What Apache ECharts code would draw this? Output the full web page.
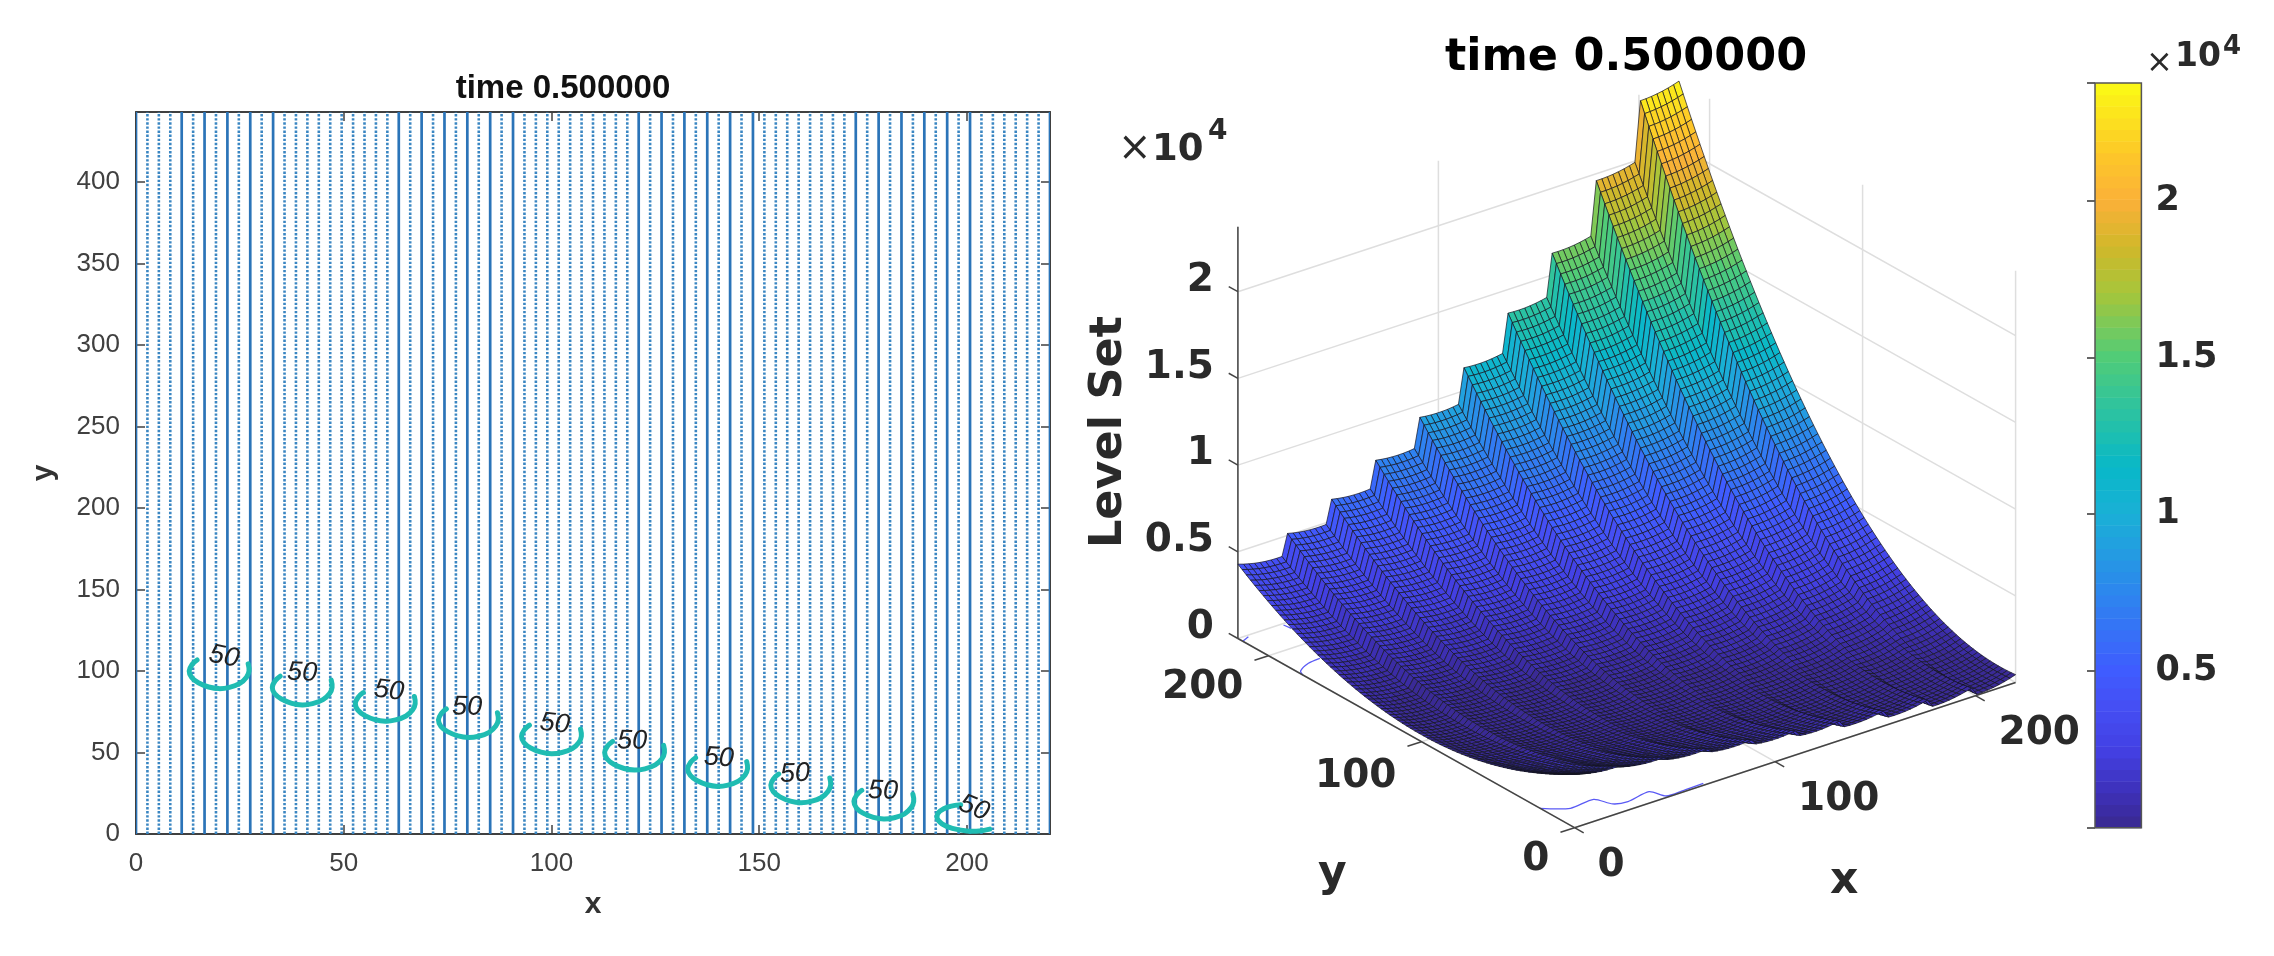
<!DOCTYPE html>
<html>
<head>
<meta charset="utf-8">
<title>time 0.500000</title>
<script src="https://cdn.jsdelivr.net/npm/echarts@6/dist/echarts.min.js"></script>
<style>
  html, body { margin: 0; padding: 0; background: #fff; }
  #chart { width: 2274px; height: 956px; }
</style>
</head>
<body>
<div id="chart"></div>
<script>
// mesh coordinates shared by both panels
const meshX = [0,2.75,5.5,8.25,11,13.75,16.5,19.25,22,24.75,27.5,30.25,33,35.75,38.5,41.25,44,46.75,49.5,52.25,55,57.75,60.5,63.25,66,68.75,71.5,74.25,77,79.75,82.5,85.25,88,90.75,93.5,96.25,99,101.75,104.5,107.25,110,112.75,115.5,118.25,121,123.75,126.5,129.25,132,134.75,137.5,140.25,143,145.75,148.5,151.25,154,156.75,159.5,162.25,165,167.75,170.5,173.25,176,178.75,181.5,184.25,187,189.75,192.5,195.25,198,200.75,203.5,206.25,209,211.75,214.5,217.25,220];
const meshY = meshX;

// left panel: columns drawn as solid lines, the others are dotted
const solidColumns = [0,4,6,8,10,12,23,25,27,29,31,33,44,46,48,50,52,54,63,65,67,69,71,73,80];
const contourCenters = [[20,100],[40,90],[60,80],[80,70],[100,60],[120,50],[140,40],[160,30],[180,20],[200,10]];
const arcOffsets = [[-5.3,6.8],[-6.5,4],[-7.2,0],[-6.6,-4],[-5,-7.2],[-2.5,-9.8],[0,-10.8],[2.5,-10],[5,-7.6],[6.6,-3.8],[7.2,0],[7,4.4]];
const lastArcOffsets = [[-1.5,8],[-4,7],[-6.5,4],[-7.2,0],[-6,-3.8],[-3.5,-6.6],[0,-8.2],[3,-8.2],[5.5,-7]];
const contourLabelPos = [[21.2,108.8],[40,98.9],[60.9,87.9],[79.7,78],[100.8,67.6],[119.4,57.1],[140.3,46.7],[158.6,36.9],[179.8,26.4],[201.7,16]];
const contourLabelTilt = [-12,-3,-7,-1,-7,-1,-4,2,-2,-22];
const contourLevel = '50';

// right panel: the surface.
// each x band (one staircase tread) has one level-per-row list; a column adds its own small rise
const bandStart = [0,9,17,25,33,41,49,57,65,73];
const columnRise = [400,298,210,138,81,39,12,1,4, 233,156,95,49,18,2,2,16, 176,110,60,25,5,0,11,36, 127,72,33,9,0,6,28,64, 86,42,14,1,3,20,53,100, 53,20,3,1,14,42,86,144, 28,6,0,9,33,72,127,196, 11,0,5,25,60,110,176,256, 2,2,18,49,95,156,233,324, 1,12,39,81,138,210,298,400];
const band1 = [2700,2554,2411,2273,2139,2009,1882,1761,1643,1529,1419,1314,1212,1115,1021,932,847,766,689,616,547,482,421,365,312,264,219,179,143,111,83,59,39,23,11,4,0,1,5,14,27,44,65,90,119,152,190,231,276,326,380,437,499,565,635,709,787,870,956,1046,1141,1239,1342,1449,1560,1674,1793,1916,2044,2175,2310,2450,2593,2741,2892,3048,3208,3372,3540,3712,3888];
const band2 = [2341,2200,2064,1931,1804,1680,1561,1447,1336,1230,1129,1032,939,851,766,687,612,541,474,412,354,301,251,207,166,131,99,72,49,30,16,7,1,0,4,11,23,40,61,86,116,150,188,231,278,329,385,445,510,579,652,730,812,898,989,1084,1184,1288,1396,1509,1626,1747,1873,2003,2137,2276,2420,2567,2719,2876,3036,3201,3371,3545,3723,3906,4092,4284,4480,4680,4884];
const band3 = [1984,1850,1721,1596,1476,1361,1250,1144,1043,946,854,767,685,607,534,465,402,343,288,239,194,153,118,87,61,39,22,10,3,0,2,9,20,36,56,82,112,147,186,230,279,332,391,454,521,593,670,752,838,929,1025,1125,1230,1340,1455,1574,1698,1826,1959,2097,2240,2387,2539,2696,2857,3023,3194,3369,3549,3734,3923,4118,4316,4520,4728,4941,5159,5381,5608,5840,6076];
const band4 = [1642,1515,1394,1277,1166,1060,959,863,772,686,605,529,459,393,332,277,226,181,141,106,75,50,30,15,5,1,1,6,16,32,52,78,109,144,185,231,282,338,399,465,536,612,694,780,871,968,1069,1176,1288,1405,1526,1653,1785,1922,2064,2212,2364,2521,2683,2851,3023,3201,3384,3571,3764,3962,4165,4373,4586,4804,5027,5255,5489,5727,5970,6219,6473,6731,6995,7264,7538];
const band5 = [1296,1180,1069,964,864,770,681,598,520,447,380,319,262,212,166,127,92,63,40,22,9,2,0,4,13,28,48,73,104,140,182,230,282,340,404,473,548,627,713,804,900,1002,1109,1222,1340,1463,1592,1726,1866,2012,2162,2318,2480,2647,2820,2998,3181,3370,3564,3764,3969,4180,4396,4617,4844,5077,5314,5558,5806,6061,6320,6585,6856,7132,7413,7700,7992,8290,8593,8902,9216];
const band6 = [975,871,772,680,593,512,438,369,306,249,197,152,113,79,52,30,14,4,0,2,10,23,43,68,100,137,180,229,284,345,412,485,563,648,738,834,936,1044,1158,1278,1404,1536,1673,1817,1966,2121,2282,2450,2622,2801,2986,3177,3373,3576,3784,3998,4218,4444,4676,4914,5158,5407,5663,5924,6192,6465,6744,7029,7320,7617,7919,8228,8543,8863,9189,9521,9860,10204,10553,10909,11271];
const band7 = [672,583,500,423,353,289,232,181,136,98,66,40,21,8,1,1,7,19,38,63,95,132,177,227,284,347,417,493,575,664,759,860,968,1082,1202,1329,1462,1601,1747,1900,2058,2223,2394,2572,2756,2946,3142,3346,3555,3771,3993,4221,4456,4697,4944,5198,5458,5725,5998,6277,6563,6854,7153,7458,7768,8086,8409,8739,9076,9419,9768,10123,10485,10853,11227,11608,11996,12389,12789,13196,13608];
const band8 = [405,334,270,213,162,119,82,52,29,12,3,0,4,15,33,57,88,126,171,223,281,347,419,498,583,676,775,881,994,1114,1240,1374,1514,1661,1814,1975,2142,2317,2498,2686,2880,3081,3290,3505,3726,3955,4190,4433,4682,4938,5200,5470,5746,6029,6319,6616,6919,7230,7547,7870,8201,8539,8883,9234,9592,9957,10328,10707,11092,11484,11883,12289,12701,13120,13546,13979,14418,14865,15318,15778,16245];
const band9 = [196,146,103,68,40,19,6,0,2,11,28,51,83,122,168,221,282,351,426,510,600,698,804,917,1037,1165,1300,1442,1592,1749,1914,2086,2266,2453,2647,2849,3058,3275,3499,3730,3969,4215,4469,4730,4998,5274,5558,5849,6147,6452,6765,7085,7413,7748,8091,8441,8798,9163,9535,9915,10302,10697,11099,11508,11925,12349,12780,13219,13666,14119,14580,15049,15525,16009,16499,16998,17503,18016,18537,19065,19600];
const band10 = [53,28,11,2,1,7,22,45,76,115,162,217,280,351,430,518,613,716,827,946,1073,1208,1352,1503,1662,1830,2004,2188,2379,2578,2786,3001,3225,3456,3695,3943,4198,4462,4733,5013,5300,5596,5899,6211,6530,6858,7193,7537,7889,8248,8616,8991,9375,9767,10166,10575,10990,11414,11846,12285,12733,13189,13653,14125,14605,15093,15588,16092,16604,17124,17652,18189,18732,19285,19844,20412,20989,21573,22165,22765,23373];
const bandProfiles = [band1,band2,band3,band4,band5,band6,band7,band8,band9,band10];

// thin contour traces lying on the floor of the 3D box
const floorContours = [
  [[0,22.5],[9.6,15.2],[21.9,16.2],[25.3,8.2],[31.4,6.2],[43.6,8.4],[46.6,1.1],[55,1],[65.3,1.4]],
  [[0,177.6],[1.5,181],[8.3,184.8],[14.7,185.7]],
  [[0,216.8],[4.3,218.8]],
  [[21.9,218.9],[22.5,214.6]]
];

const xTicks3d = [0,100,200];
const yTicks3d = [0,100,200];
const zTicks3d = [0,5000,10000,15000,20000];
const zTickLabels = ['0','0.5','1','1.5','2'];
const xyMax = 220;
const zMax = 23740;

// colour bar stops
const colorStopValues = [0,1000,2500,4000,5000,7500,10000,11500,13500,15000,17000,18500,20000,21500,23755];
const colorStopColors = ['#39298f','#3d2fb4','#4340e4','#4550f5','#3f5cff','#2d86ee','#1ab0d6','#08b8c8','#30c49c','#50cc78','#a4c63c','#d0b82a','#fbb038','#fdc828','#fbfb14'];
const colorBarMax = 23755;
const colorBarTicks = { 5000: '0.5', 10000: '1', 15000: '1.5', 20000: '2' };

const BOLD3D = 'bold 39px "DejaVu Sans"';

// table of heights used by the mesh
const surface = meshX.map((_, i) => {
  let b = bandStart.length - 1;
  while (bandStart[b] > i) b--;
  return meshY.map((_, j) => bandProfiles[b][j] + columnRise[i]);
});

// axonometric view of the 3D box on the hidden cartesian of the right panel
function project(x, y, z) {
  return [2.005 * x - 1.53 * y, 0.66 * x + 0.86 * y + 0.01734 * z];
}

const colormap = [];
for (let n = 0; n < 64; n++) {
  const v = (n + 0.5) / 64 * colorBarMax;
  let s = 0;
  while (s < colorStopValues.length - 2 && colorStopValues[s + 1] < v) s++;
  const t = (v - colorStopValues[s]) / (colorStopValues[s + 1] - colorStopValues[s]);
  colormap.push(echarts.color.lerp(t, [colorStopColors[s], colorStopColors[s + 1]]));
}
function colorOf(v) {
  return colormap[Math.max(0, Math.min(63, Math.floor(v / colorBarMax * 64)))];
}

// cells go far to near so that the nearer ones paint over
const surfaceCells = [];
for (let i = meshX.length - 2; i >= 0; i--) {
  for (let j = meshY.length - 2; j >= 0; j--) surfaceCells.push([i, j]);
}

// wall grid of the 3D box, as [from, to] in data units
const wallSegments = [];
zTicks3d.forEach(z => {
  wallSegments.push([[0, xyMax, z], [xyMax, xyMax, z]]);
  wallSegments.push([[xyMax, xyMax, z], [xyMax, 0, z]]);
});
xTicks3d.forEach(x => {
  wallSegments.push([[x, xyMax, 0], [x, xyMax, zMax]]);
  wallSegments.push([[x, 0, 0], [x, xyMax, 0]]);
});
yTicks3d.forEach(y => {
  wallSegments.push([[xyMax, y, 0], [xyMax, y, zMax]]);
  wallSegments.push([[0, y, 0], [xyMax, y, 0]]);
});

// axis lines and their ticks
const axisSegments = [
  [[0, 0, 0], [xyMax, 0, 0]],
  [[0, 0, 0], [0, xyMax, 0]],
  [[0, xyMax, 0], [0, xyMax, zMax]]
];
xTicks3d.forEach(x => axisSegments.push([[x, 0, 0], [x, -6, 0]]));
yTicks3d.forEach(y => axisSegments.push([[0, y, 0], [-7, y, 0]]));
zTicks3d.forEach(z => axisSegments.push([[0, xyMax, z], [0, xyMax + 6, z]]));

const tickLabels3d = [];
xTicks3d.forEach(x => tickLabels3d.push({ at: [x, 0, 0], text: String(x), dx: 23, dy: 38, align: 'left' }));
yTicks3d.forEach(y => tickLabels3d.push({ at: [0, y, 0], text: String(y), dx: -25, dy: y === 100 ? 35 : 32, align: 'right' }));
zTicks3d.forEach((z, n) => tickLabels3d.push({ at: [0, xyMax, z], text: zTickLabels[n], dx: -24, dy: -11, align: 'right' }));

function segmentItem(seg, api, style) {
  const a = api.coord(project(seg[0][0], seg[0][1], seg[0][2]));
  const b = api.coord(project(seg[1][0], seg[1][1], seg[1][2]));
  return { type: 'line', shape: { x1: a[0], y1: a[1], x2: b[0], y2: b[1] }, style: style };
}

const option = {
  animation: false,
  backgroundColor: '#fff',
  title: [
    { text: 'time 0.500000', left: 558, top: 67, textAlign: 'center',
      textStyle: { fontFamily: 'Liberation Sans', fontWeight: 'bold', fontSize: 33, color: '#111' } },
    { text: 'time 0.500000', left: 1621, top: 31, textAlign: 'center',
      textStyle: { fontFamily: 'DejaVu Sans', fontWeight: 'bold', fontSize: 44.5, color: '#000' } }
  ],
  grid: [
    { left: 136, top: 112, width: 914, height: 722 },
    { left: 1174.5, top: 27.7, width: 900, height: 900 },
    { left: 2095, top: 83, width: 46.4, height: 744.7 }
  ],
  xAxis: [
    {
      gridIndex: 0, type: 'value', min: 0, max: 220, interval: 50, position: 'bottom',
      name: 'x', nameLocation: 'middle', nameGap: 56,
      nameTextStyle: { fontFamily: 'Liberation Sans', fontWeight: 'bold', fontSize: 30, color: '#333' },
      axisLine: { onZero: false, lineStyle: { color: '#404040', width: 2 } },
      axisTick: { inside: true, length: 9, lineStyle: { color: '#404040', width: 1.5 } },
      axisLabel: { margin: 17, fontFamily: 'Liberation Sans', fontSize: 26, color: '#404040',
        showMaxLabel: false, formatter: v => (v % 50 === 0 ? String(v) : '') },
      splitLine: { show: false }
    },
    {
      gridIndex: 0, type: 'value', min: 0, max: 220, interval: 50, position: 'top',
      axisLine: { onZero: false, lineStyle: { color: '#404040', width: 2 } },
      axisTick: { inside: true, length: 9, lineStyle: { color: '#404040', width: 1.5 } },
      axisLabel: { show: false }, splitLine: { show: false }
    },
    { gridIndex: 1, type: 'value', min: -400, max: 500, show: false },
    { gridIndex: 2, type: 'value', min: 0, max: 1, show: false }
  ],
  yAxis: [
    {
      gridIndex: 0, type: 'value', min: 0, max: 443, interval: 50, position: 'left',
      name: 'y', nameLocation: 'middle', nameGap: 77,
      nameTextStyle: { fontFamily: 'Liberation Sans', fontWeight: 'bold', fontSize: 30, color: '#333' },
      axisLine: { onZero: false, lineStyle: { color: '#404040', width: 2 } },
      axisTick: { inside: true, length: 9, lineStyle: { color: '#404040', width: 1.5 } },
      axisLabel: { margin: 16, fontFamily: 'Liberation Sans', fontSize: 26, color: '#404040',
        showMaxLabel: false, formatter: v => (v % 50 === 0 ? String(v) : '') },
      splitLine: { show: false }
    },
    {
      gridIndex: 0, type: 'value', min: 0, max: 443, interval: 50, position: 'right',
      axisLine: { onZero: false, lineStyle: { color: '#404040', width: 2 } },
      axisTick: { inside: true, length: 9, lineStyle: { color: '#404040', width: 1.5 } },
      axisLabel: { show: false }, splitLine: { show: false }
    },
    { gridIndex: 1, type: 'value', min: -100, max: 800, show: false },
    {
      gridIndex: 2, type: 'value', min: 0, max: colorBarMax, interval: 5000, position: 'right',
      axisLine: { show: false },
      axisTick: { inside: true, length: 8, lineStyle: { color: '#333', width: 1.5 } },
      axisLabel: { margin: 14, fontFamily: 'DejaVu Sans', fontWeight: 'bold', fontSize: 35, color: '#2a2a2a',
        formatter: v => colorBarTicks[v] || '' },
      splitLine: { show: false }
    }
  ],
  series: [
    // left panel, mesh columns
    {
      type: 'custom', xAxisIndex: 0, yAxisIndex: 0, silent: true, z: 2, clip: true,
      data: meshX.map((x, k) => [x, k]),
      renderItem(params, api) {
        const k = params.dataIndex;
        const a = api.coord([meshX[k], 0]);
        const b = api.coord([meshX[k], 443]);
        const solid = solidColumns.indexOf(k) >= 0;
        return {
          type: 'line',
          shape: { x1: a[0], y1: a[1], x2: b[0], y2: b[1] },
          style: solid
            ? { stroke: '#2b74b8', lineWidth: 2.7 }
            : { stroke: '#3a86c2', lineWidth: 2.6, lineDash: [2.4, 1.7] }
        };
      }
    },
    // left panel, level contours
    {
      type: 'custom', xAxisIndex: 0, yAxisIndex: 0, silent: true, z: 3,
      data: contourCenters,
      renderItem(params, api) {
        const c = contourCenters[params.dataIndex];
        const offsets = params.dataIndex === contourCenters.length - 1 ? lastArcOffsets : arcOffsets;
        const pts = offsets.map(o => api.coord([c[0] + o[0], c[1] + o[1]]));
        return {
          type: 'polyline',
          shape: { points: pts, smooth: 0.4 },
          style: { stroke: '#1fbcb2', lineWidth: 5, fill: 'none', lineCap: 'round' }
        };
      }
    },
    {
      type: 'custom', xAxisIndex: 0, yAxisIndex: 0, silent: true, z: 4,
      data: contourLabelPos,
      renderItem(params, api) {
        const p = api.coord(contourLabelPos[params.dataIndex]);
        return {
          type: 'text', x: p[0], y: p[1],
          rotation: contourLabelTilt[params.dataIndex] * Math.PI / 180,
          style: { text: contourLevel, font: 'italic 27px "Liberation Sans"', fill: '#222',
            align: 'center', verticalAlign: 'middle', textAlign: 'center', textVerticalAlign: 'middle' }
        };
      }
    },
    // right panel, walls and floor grid
    {
      type: 'custom', xAxisIndex: 2, yAxisIndex: 2, silent: true, z: 2,
      data: wallSegments.map((s, n) => [n]),
      renderItem(params, api) {
        return segmentItem(wallSegments[params.dataIndex], api, { stroke: '#dedede', lineWidth: 1.5 });
      }
    },
    {
      type: 'custom', xAxisIndex: 2, yAxisIndex: 2, silent: true, z: 3,
      data: floorContours.map((s, n) => [n]),
      renderItem(params, api) {
        const pts = floorContours[params.dataIndex].map(p => api.coord(project(p[0], p[1], 0)));
        return { type: 'polyline', shape: { points: pts, smooth: 0.25 }, style: { stroke: '#5a5af5', lineWidth: 1.3, fill: 'none' } };
      }
    },
    {
      type: 'custom', xAxisIndex: 2, yAxisIndex: 2, silent: true, z: 3,
      data: axisSegments.map((s, n) => [n]),
      renderItem(params, api) {
        return segmentItem(axisSegments[params.dataIndex], api, { stroke: '#444', lineWidth: 1.5 });
      }
    },
    // right panel, surface
    {
      type: 'custom', xAxisIndex: 2, yAxisIndex: 2, silent: true, z: 5, progressive: 0,
      data: surfaceCells,
      renderItem(params, api) {
        const c = surfaceCells[params.dataIndex];
        const i = c[0], j = c[1];
        const corner = (a, b) => api.coord(project(meshX[a], meshY[b], surface[a][b]));
        return {
          type: 'polygon',
          shape: { points: [corner(i, j), corner(i + 1, j), corner(i + 1, j + 1), corner(i, j + 1)] },
          style: { fill: colorOf(surface[i][j]), stroke: '#14141f', lineWidth: 0.7 }
        };
      }
    },
    {
      type: 'custom', xAxisIndex: 2, yAxisIndex: 2, silent: true, z: 6,
      data: tickLabels3d.map((s, n) => [n]),
      renderItem(params, api) {
        const t = tickLabels3d[params.dataIndex];
        const p = api.coord(project(t.at[0], t.at[1], t.at[2]));
        return {
          type: 'text', x: p[0] + t.dx, y: p[1] + t.dy,
          style: { text: t.text, font: BOLD3D, fill: '#2a2a2a', align: t.align, textAlign: t.align,
            verticalAlign: 'middle', textVerticalAlign: 'middle' }
        };
      }
    },
    // colour bar
    {
      type: 'custom', xAxisIndex: 3, yAxisIndex: 3, silent: true, z: 2,
      data: colormap.map((c, n) => [n]),
      renderItem(params, api) {
        const n = params.dataIndex;
        const a = api.coord([0, n / 64 * colorBarMax]);
        const b = api.coord([1, (n + 1) / 64 * colorBarMax]);
        return {
          type: 'rect',
          shape: { x: a[0], y: b[1], width: b[0] - a[0], height: a[1] - b[1] + 0.5 },
          style: { fill: colormap[n] }
        };
      }
    },
    {
      type: 'custom', xAxisIndex: 3, yAxisIndex: 3, silent: true, z: 3,
      data: [[0]],
      renderItem(params, api) {
        const a = api.coord([0, 0]);
        const b = api.coord([1, colorBarMax]);
        return {
          type: 'rect',
          shape: { x: a[0], y: b[1], width: b[0] - a[0], height: a[1] - b[1] },
          style: { fill: 'none', stroke: '#555', lineWidth: 1.5 }
        };
      }
    }
  ],
  graphic: [
    { type: 'text', left: 1118, top: 130, style: { text: '×', font: '40px "DejaVu Sans"', fill: '#2a2a2a' } },
    { type: 'text', left: 1152, top: 132, style: { text: '10', font: 'bold 37px "DejaVu Sans"', fill: '#2a2a2a' } },
    { type: 'text', left: 1208, top: 118, style: { text: '4', font: 'bold 28px "DejaVu Sans"', fill: '#2a2a2a' } },
    { type: 'text', left: 2146, top: 48, style: { text: '×', font: '32px "DejaVu Sans"', fill: '#2a2a2a' } },
    { type: 'text', left: 2175, top: 41, style: { text: '10', font: 'bold 33px "DejaVu Sans"', fill: '#2a2a2a' } },
    { type: 'text', left: 2223, top: 34, style: { text: '4', font: 'bold 26px "DejaVu Sans"', fill: '#2a2a2a' } },
    { type: 'text', left: 1830, top: 860, style: { text: 'x', font: 'bold 44px "DejaVu Sans"', fill: '#2a2a2a' } },
    { type: 'text', left: 1318, top: 853, style: { text: 'y', font: 'bold 44px "DejaVu Sans"', fill: '#2a2a2a' } },
    { type: 'text', x: 1109, y: 432, rotation: Math.PI / 2,
      style: { text: 'Level Set', font: 'bold 44.5px "DejaVu Sans"', fill: '#2a2a2a',
        align: 'center', verticalAlign: 'middle', textAlign: 'center', textVerticalAlign: 'middle' } }
  ]
};

const chart = echarts.init(document.getElementById('chart'), null, { renderer: 'canvas' });
chart.setOption(option);
</script>
</body>
</html>
